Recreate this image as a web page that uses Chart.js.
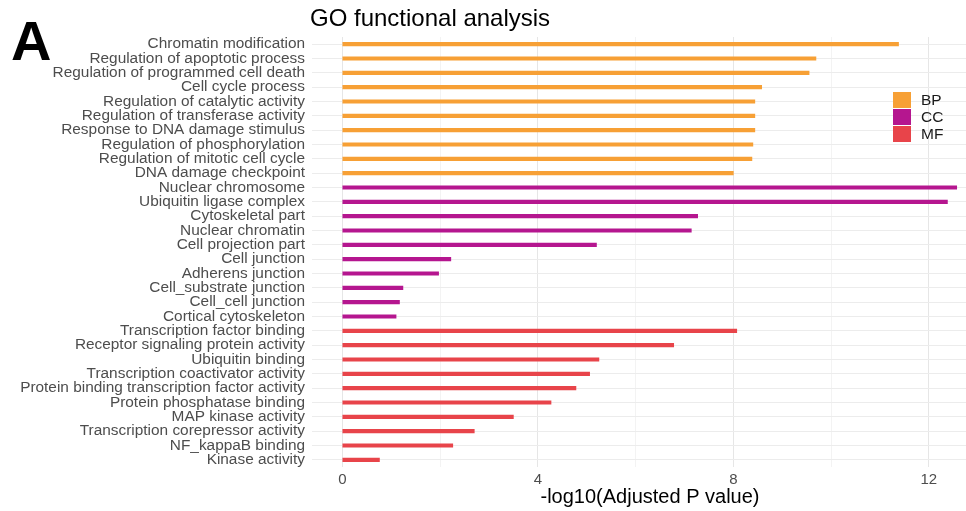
<!DOCTYPE html>
<html>
<head>
<meta charset="utf-8">
<script src="https://cdn.jsdelivr.net/npm/chart.js@4/dist/chart.umd.min.js"></script>
<style>
  html, body { margin: 0; padding: 0; background: #ffffff; }
  #wrap { width: 966px; height: 511px; }
</style>
</head>
<body>
<div id="wrap"><canvas id="c" width="966" height="511"></canvas></div>
<script>
// GO terms, top to bottom
const terms = [
  'Chromatin modification',
  'Regulation of apoptotic process',
  'Regulation of programmed cell death',
  'Cell cycle process',
  'Regulation of catalytic activity',
  'Regulation of transferase activity',
  'Response to DNA damage stimulus',
  'Regulation of phosphorylation',
  'Regulation of mitotic cell cycle',
  'DNA damage checkpoint',
  'Nuclear chromosome',
  'Ubiquitin ligase complex',
  'Cytoskeletal part',
  'Nuclear chromatin',
  'Cell projection part',
  'Cell junction',
  'Adherens junction',
  'Cell_substrate junction',
  'Cell_cell junction',
  'Cortical cytoskeleton',
  'Transcription factor binding',
  'Receptor signaling protein activity',
  'Ubiquitin binding',
  'Transcription coactivator activity',
  'Protein binding transcription factor activity',
  'Protein phosphatase binding',
  'MAP kinase activity',
  'Transcription corepressor activity',
  'NF_kappaB binding',
  'Kinase activity'
];

// Ontology of each term
const termGroup = [
  'BP','BP','BP','BP','BP','BP','BP','BP','BP','BP',
  'CC','CC','CC','CC','CC','CC','CC','CC','CC','CC',
  'MF','MF','MF','MF','MF','MF','MF','MF','MF','MF'
];

// -log10(adjusted P value) per term
const negLogP = [
  11.38, 9.69, 9.55, 8.58, 8.44, 8.44, 8.44, 8.40, 8.38, 8.00,
  12.57, 12.38, 7.27, 7.14, 5.20, 2.22, 1.97, 1.24, 1.17, 1.10,
  8.07, 6.78, 5.25, 5.06, 4.78, 4.27, 3.50, 2.70, 2.26, 0.76
];

const groups = ['BP', 'CC', 'MF'];
const groupColors = ['#F7A035', '#B5168F', '#E8444A'];

const xTicks = [0, 2, 4, 6, 8, 10, 12];
const xLabeledTicks = [0, 4, 8, 12];
const xAxisTitle = '-log10(Adjusted P value)';

const FONT = '"Liberation Sans", Arial, Helvetica, sans-serif';

const datasets = groups.map((g, gi) => ({
  label: g,
  data: negLogP.map((v, i) => termGroup[i] === g ? v : null),
  backgroundColor: groupColors[gi],
  borderWidth: 0,
  barThickness: 3.5,
  grouped: false
}));

// Panel tag, title, x-axis title and ontology key
const decorations = {
  id: 'decorations',
  afterDraw(chart) {
    const ctx = chart.ctx;
    const area = chart.chartArea;
    ctx.save();

    ctx.fillStyle = '#000000';
    ctx.font = 'bold 56px ' + FONT;
    ctx.textAlign = 'left';
    ctx.textBaseline = 'alphabetic';
    ctx.fillText('A', 11, 60);

    ctx.font = '24px ' + FONT;
    ctx.textBaseline = 'middle';
    ctx.fillText('GO functional analysis', area.left - 2, 19);

    ctx.font = '20px ' + FONT;
    ctx.textAlign = 'center';
    ctx.fillText(xAxisTitle, 650, 497);

    const lx = 893, ly = 92, sw = 18, sh = 16, step = 17;
    ctx.textAlign = 'left';
    chart.data.datasets.forEach((ds, i) => {
      const y = ly + i * step;
      ctx.fillStyle = ds.backgroundColor;
      ctx.fillRect(lx, y, sw, sh);
      ctx.fillStyle = '#1a1a1a';
      ctx.font = '15.5px ' + FONT;
      ctx.textBaseline = 'middle';
      ctx.fillText(ds.label, lx + 28, y + sh / 2 + 1);
    });

    ctx.restore();
  }
};

new Chart(document.getElementById('c'), {
  type: 'bar',
  data: { labels: terms, datasets },
  plugins: [decorations],
  options: {
    indexAxis: 'y',
    responsive: false,
    devicePixelRatio: 1,
    animation: false,
    layout: { padding: { top: 37, left: 0, right: 0, bottom: 0 } },
    plugins: {
      legend: { display: false },
      tooltip: { enabled: false },
      title: { display: false }
    },
    scales: {
      x: {
        type: 'linear',
        min: -0.62,
        max: 12.76,
        afterFit: s => { s.height = 44; },
        afterBuildTicks: s => { s.ticks = xTicks.map(v => ({ value: v })); },
        border: { display: false },
        grid: {
          drawTicks: false,
          lineWidth: 1,
          color: c => (c.tick && xLabeledTicks.includes(c.tick.value)) ? '#e6e6e6' : '#f3f3f3'
        },
        ticks: {
          padding: 4,
          color: '#4d4d4d',
          font: { family: FONT, size: 15 },
          callback: v => xLabeledTicks.includes(v) ? String(v) : ''
        },
        title: { display: false }
      },
      y: {
        type: 'category',
        offset: true,
        afterFit: s => { s.width = 312; },
        border: { display: false },
        grid: {
          offset: false,
          drawTicks: false,
          color: '#ececec',
          lineWidth: 1
        },
        ticks: {
          autoSkip: false,
          padding: 7,
          color: '#4d4d4d',
          font: { family: FONT, size: 15.4 }
        }
      }
    }
  }
});
</script>
</body>
</html>
